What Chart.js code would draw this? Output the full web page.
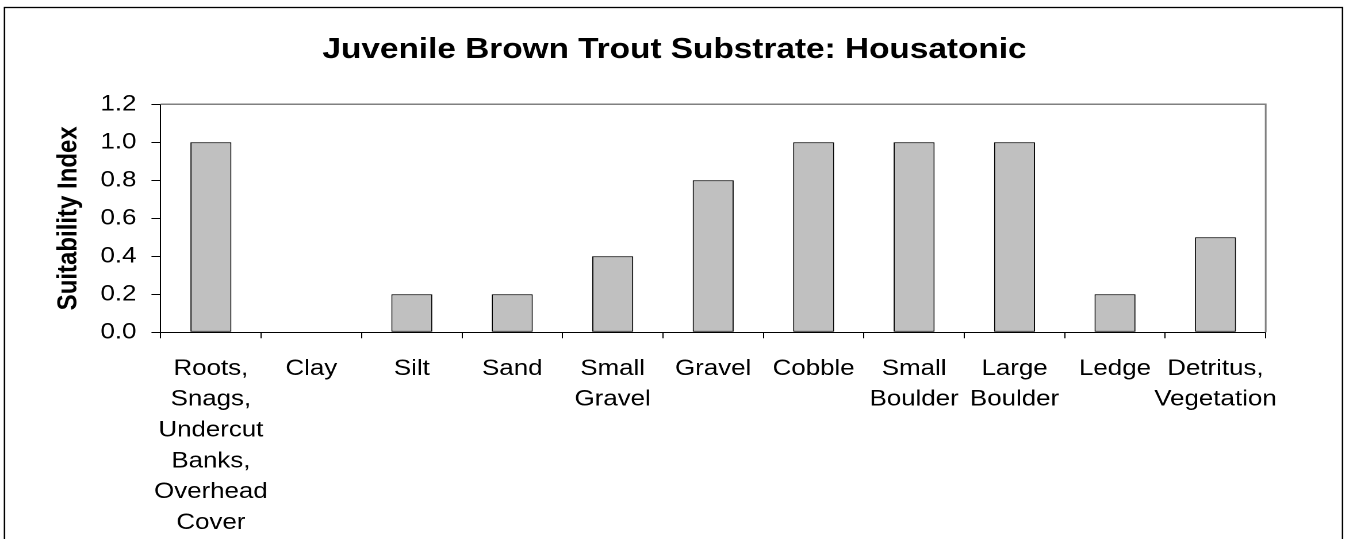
<!DOCTYPE html>
<html>
<head>
<meta charset="utf-8">
<script src="https://cdn.jsdelivr.net/npm/chart.js@4"></script>
<style>
  html, body { margin: 0; padding: 0; background: #fff; overflow: hidden; }
  #wrap { width: 1173px; height: 539px; transform: scaleX(1.15); transform-origin: 0 0; }
</style>
</head>
<body>
<div id="wrap"><canvas id="c" width="1173" height="539"></canvas></div>
<script>
const chartTitle = "Juvenile Brown Trout Substrate: Housatonic";
const yAxisTitle = "Suitability Index";
const categories = [
  ["Roots,", "Snags,", "Undercut", "Banks,", "Overhead", "Cover"],
  ["Clay"],
  ["Silt"],
  ["Sand"],
  ["Small", "Gravel"],
  ["Gravel"],
  ["Cobble"],
  ["Small", "Boulder"],
  ["Large", "Boulder"],
  ["Ledge"],
  ["Detritus,", "Vegetation"]
];
const suitability = [1.0, 0.0, 0.2, 0.2, 0.4, 0.8, 1.0, 1.0, 1.0, 0.2, 0.5];
const yMin = 0;
const yMax = 1.2;
const yStep = 0.2;

const FONT = "'Liberation Sans', Arial, Helvetica, sans-serif";

const frame = {
  id: 'frame',
  beforeDraw(chart) {
    const ctx = chart.ctx;
    ctx.save();
    ctx.fillStyle = '#fff';
    ctx.fillRect(0, 0, chart.width, chart.height);
    ctx.strokeStyle = '#000';
    ctx.lineWidth = 1.3;
    ctx.strokeRect(3.9, 7.5, 1163.5, 700);
    ctx.restore();
  },
  afterDraw(chart) {
    const a = chart.chartArea, ctx = chart.ctx;
    ctx.save();
    ctx.strokeStyle = '#808080';
    ctx.lineWidth = 1.5;
    ctx.beginPath();
    ctx.moveTo(a.left, a.top);
    ctx.lineTo(a.right, a.top);
    ctx.lineTo(a.right, a.bottom);
    ctx.stroke();
    ctx.restore();
  }
};

new Chart(document.getElementById('c'), {
  type: 'bar',
  data: {
    labels: categories,
    datasets: [{
      data: suitability,
      yAxisID: 'y',
      backgroundColor: '#C0C0C0',
      borderColor: '#000',
      borderWidth: 1,
      borderSkipped: false,
      barPercentage: 0.408,
      categoryPercentage: 1.0
    }]
  },
  options: {
    responsive: false,
    devicePixelRatio: 2,
    animation: false,
    layout: { padding: 0 },
    plugins: {
      legend: { display: false },
      tooltip: { enabled: false },
      title: {
        display: true,
        text: chartTitle,
        color: '#000',
        font: { family: FONT, size: 29, weight: 'bold', lineHeight: 1.2 },
        padding: { top: 32.6, bottom: 36.9 }
      }
    },
    scales: {
      x: {
        offset: true,
        afterFit(s) { s.height = 206.7; },
        border: { display: true, color: '#000', width: 1 },
        grid: { offset: true, drawOnChartArea: false, drawTicks: true, tickLength: 6, color: '#000' },
        ticks: {
          autoSkip: false, maxRotation: 0, minRotation: 0,
          color: '#000', padding: 15,
          font: { family: FONT, size: 22.5, lineHeight: 1.37 }
        }
      },
      y: {
        min: yMin, max: yMax,
        afterFit(s) { s.width = 139.7; },
        border: { display: true, color: '#000', width: 1 },
        grid: { drawOnChartArea: false, drawTicks: true, tickLength: 8, color: '#000' },
        ticks: {
          stepSize: yStep, color: '#000', padding: 13,
          font: { family: FONT, size: 22.5 },
          callback: v => Number(v).toFixed(1)
        },
        title: {
          display: true, text: yAxisTitle, color: '#000',
          font: { family: FONT, size: 24, weight: 'bold', lineHeight: 1.2 },
          padding: { top: 45.5, bottom: 0 }
        }
      },
      yRight: {
        position: 'right',
        min: yMin, max: yMax,
        afterFit(s) { s.width = 72.4; },
        border: { display: false },
        grid: { display: false },
        ticks: { display: false }
      }
    }
  },
  plugins: [frame]
});
</script>
</body>
</html>
